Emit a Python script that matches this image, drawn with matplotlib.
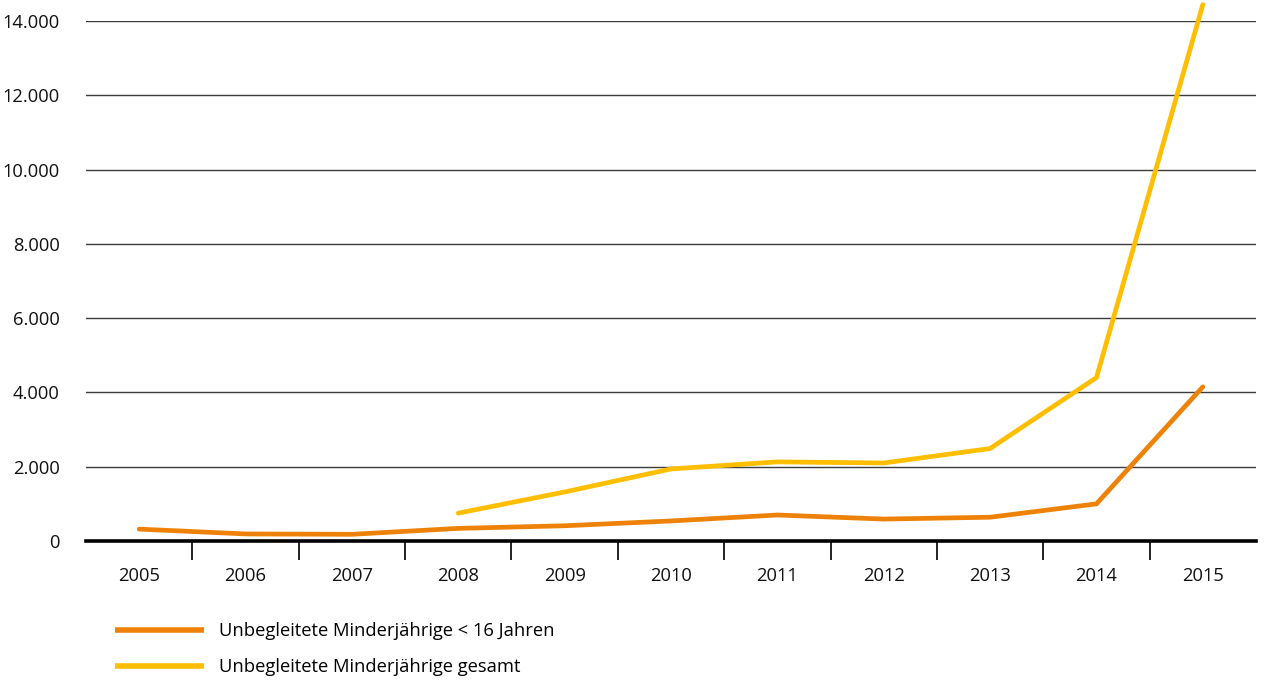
import matplotlib

matplotlib.use("Agg")
import matplotlib.pyplot as plt
from matplotlib.ticker import FuncFormatter, FixedLocator

YEARS = ["2005", "2006", "2007", "2008", "2009", "2010", "2011", "2012", "2013", "2014", "2015"]
UNDER_16 = [320, 190, 180, 340, 410, 540, 700, 590, 640, 1000, 4150]
TOTAL_YEARS = ["2008", "2009", "2010", "2011", "2012", "2013", "2014", "2015"]
TOTAL = [750, 1320, 1940, 2130, 2100, 2490, 4400, 14440]
Y_TICKS = [0, 2000, 4000, 6000, 8000, 10000, 12000, 14000]

ORANGE = "#EE8208"
YELLOW = "#FFBE00"
GRID = "#3c3c3c"
FS = 13.2

plt.rcParams["font.family"] = ["Open Sans", "DejaVu Sans"]

fig = plt.figure(figsize=(12.65, 6.82), dpi=100)
ax = fig.add_axes([86 / 1265, (682 - 541) / 682, 1170 / 1265, 520 / 682])

x_all = list(range(len(YEARS)))
x_total = [YEARS.index(y) for y in TOTAL_YEARS]

ax.plot(x_all, UNDER_16, color=ORANGE, linewidth=3.4, solid_capstyle="round",
        solid_joinstyle="miter", clip_on=False, zorder=3,
        label="Unbegleitete Minderjährige < 16 Jahren")
ax.plot(x_total, TOTAL, color=YELLOW, linewidth=3.4, solid_capstyle="round",
        solid_joinstyle="miter", clip_on=False, zorder=3,
        label="Unbegleitete Minderjährige gesamt")

ax.set_xlim(-0.5, len(YEARS) - 0.5)
ax.set_ylim(0, 14000)
ax.set_xticks(x_all)
ax.set_xticklabels(YEARS)
ax.xaxis.set_minor_locator(FixedLocator([i + 0.5 for i in range(len(YEARS) - 1)]))
ax.set_yticks(Y_TICKS)
ax.yaxis.set_major_formatter(FuncFormatter(lambda v, _: f"{int(v):,}".replace(",", ".")))

ax.tick_params(axis="x", which="major", length=0, pad=19, labelsize=FS, colors="#111111")
ax.tick_params(axis="x", which="minor", length=14, width=1.3, color="#111111", direction="out")
ax.tick_params(axis="y", length=0, pad=19, labelsize=FS, colors="#111111")

for s in ("top", "right", "left"):
    ax.spines[s].set_visible(False)
ax.spines["bottom"].set_linewidth(2.6)
ax.spines["bottom"].set_color("#000000")
ax.spines["bottom"].set_zorder(4)

ax.grid(True, axis="y", color=GRID, linewidth=1.0)
ax.set_axisbelow(True)

leg = fig.legend(loc="upper left", bbox_to_anchor=(98 / 1265, 1 - 606 / 682),
                 frameon=False, fontsize=FS, handlelength=4.9, handletextpad=0.8,
                 labelspacing=0.95)
for line in leg.get_lines():
    line.set_linewidth(4)
    line.set_solid_capstyle("butt")

fig.savefig("out.png", dpi=100)
